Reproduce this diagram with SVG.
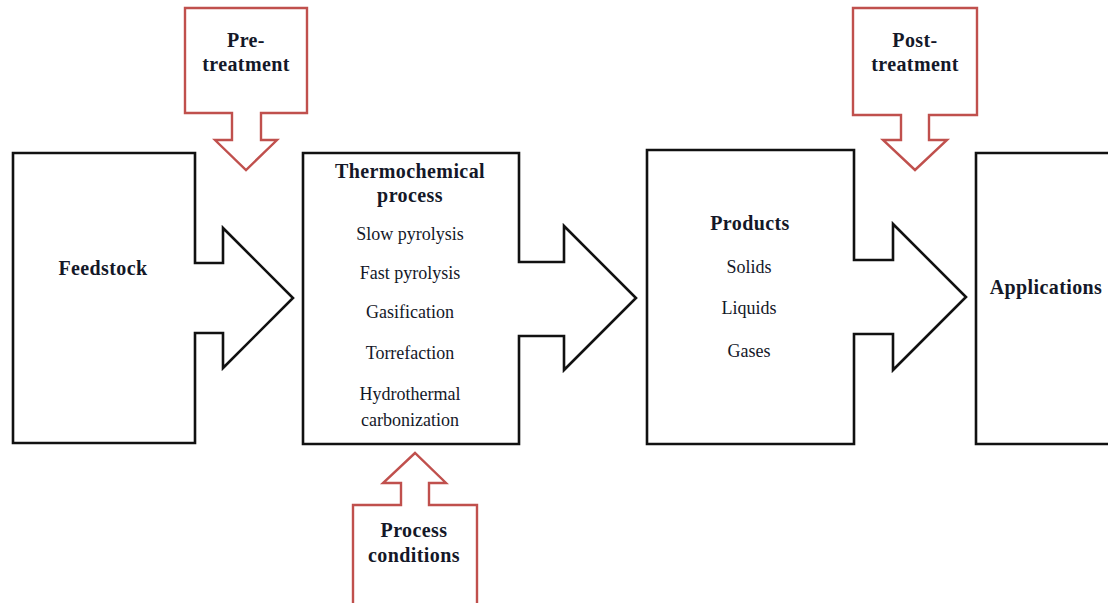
<svg xmlns="http://www.w3.org/2000/svg" width="1108" height="603" viewBox="0 0 1108 603">
  <style>
    .blk { fill: #ffffff; stroke: #111111; stroke-width: 2.6; stroke-linejoin: miter; }
    .red { fill: #ffffff; stroke: #c0504d; stroke-width: 2.4; stroke-linejoin: miter; }
    .t { font-family: "Liberation Serif", "Times New Roman", serif; fill: #141828; text-anchor: middle; }
    .b { font-weight: bold; font-size: 20px; letter-spacing: 0.4px; }
    .r { font-size: 18px; }
  </style>
  <rect width="1108" height="603" fill="#ffffff"/>

  <g id="connectors">
    <!-- red block arrows feeding into the process chain -->
    <path id="arrow-pretreatment" class="red" d="M185,8 H307 V113 H261 V140 H277 L246,170 L215,140 H232 V113 H185 Z"/>
    <path id="arrow-posttreatment" class="red" d="M853,8 H977 V115 H929 V140 H947 L915,170 L883,140 H901 V115 H853 Z"/>
    <path id="arrow-conditions" class="red" d="M353,610 V505 H401 V483 H383 L415,453 L446,483 H429 V505 H477 V610"/>
  </g>

  <g id="feedstock">
    <path class="blk" d="M13,153 H195 V263 H223 V228 L293,298 L223,368 V333 H195 V443 H13 Z"/>
    <text class="t b" x="103" y="275">Feedstock</text>
  </g>

  <g id="thermochemical">
    <path class="blk" d="M303,153 H519 V262 H564 V226 L636,298 L564,370 V336 H519 V444 H303 Z"/>
    <text class="t b" x="410" y="178">Thermochemical</text>
    <text class="t b" x="410" y="202">process</text>
    <text class="t r" x="410" y="240">Slow pyrolysis</text>
    <text class="t r" x="410" y="279">Fast pyrolysis</text>
    <text class="t r" x="410" y="318">Gasification</text>
    <text class="t r" x="410" y="359">Torrefaction</text>
    <text class="t r" x="410" y="400">Hydrothermal</text>
    <text class="t r" x="410" y="426">carbonization</text>
  </g>

  <g id="products">
    <path class="blk" d="M647,150 H854 V260 H893 V224 L966,297 L893,370 V334 H854 V444 H647 Z"/>
    <text class="t b" x="750" y="230">Products</text>
    <text class="t r" x="749" y="273">Solids</text>
    <text class="t r" x="749" y="314">Liquids</text>
    <text class="t r" x="749" y="357">Gases</text>
  </g>

  <g id="applications">
    <path class="blk" d="M1115,153 H976 V444 H1115"/>
    <text class="t b" x="1046" y="294">Applications</text>
  </g>

  <g id="pretreatment">
    <text class="t b" x="246" y="47">Pre-</text>
    <text class="t b" x="246" y="71">treatment</text>
  </g>

  <g id="posttreatment">
    <text class="t b" x="915" y="47">Post-</text>
    <text class="t b" x="915" y="71">treatment</text>
  </g>

  <g id="conditions">
    <text class="t b" x="414" y="537">Process</text>
    <text class="t b" x="414" y="562">conditions</text>
  </g>
</svg>
